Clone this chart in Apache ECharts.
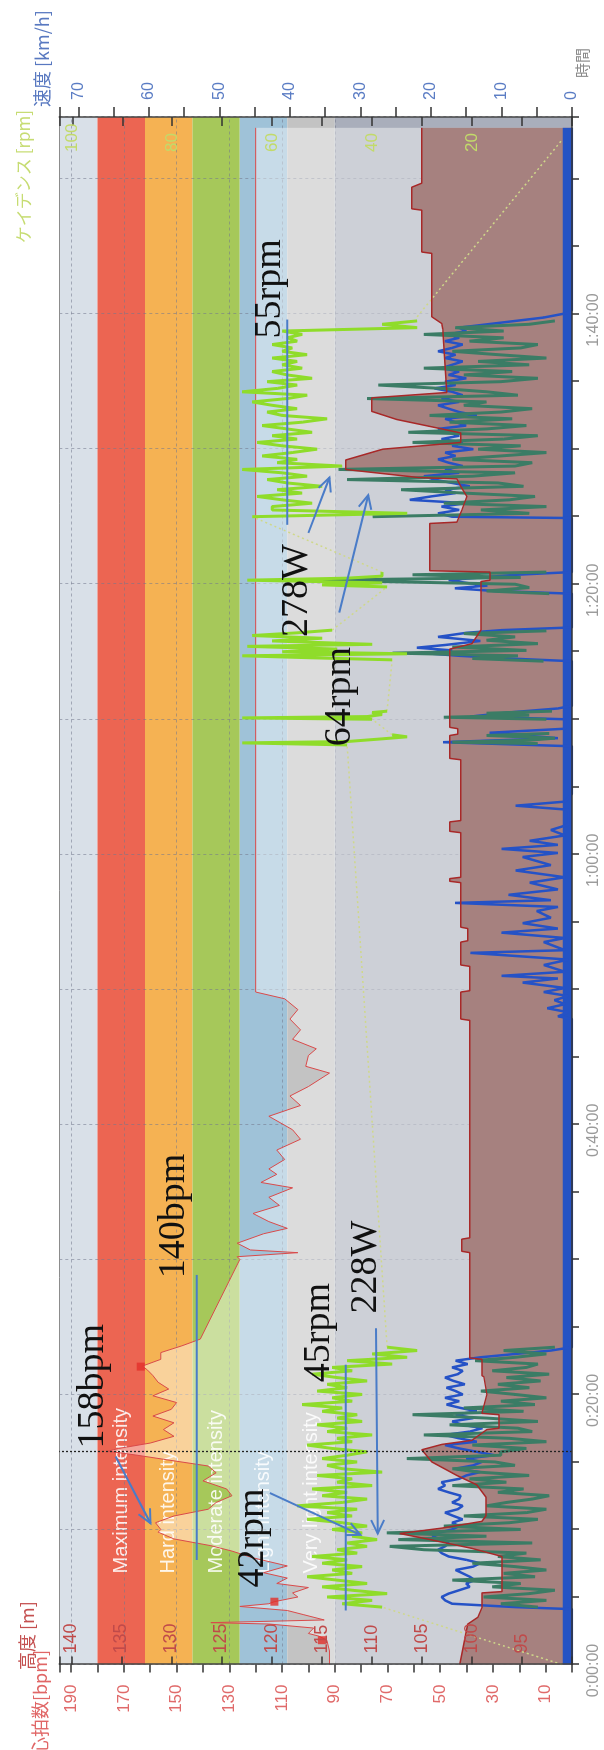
<!DOCTYPE html>
<html><head><meta charset="utf-8">
<script src="https://cdn.jsdelivr.net/npm/echarts@6/dist/echarts.min.js"></script>
<style>
html,body{margin:0;padding:0;background:#fff;width:604px;height:1750px;overflow:hidden;}
#chart{position:absolute;left:0;top:0;width:1750px;height:604px;transform-origin:0 0;transform:translate(0px,1750px) rotate(-90deg);}
</style></head><body><div id="chart"></div>
<script>
// ---------- data (time in minutes) ----------
const TIME_MAX = 114.6;
const zoneNames  = ['', 'Maximum intensity', 'Hard intensity', 'Moderate intensity', 'Light intensity', 'Very light intensity', ''];
const zoneFrom   = [180, 162, 144, 126, 108, 90, 0];
const zoneTo     = [194.5, 180, 162, 144, 126, 108, 90];
const zoneColors = ['#d9e0e8', '#ec6552', '#f5b253', '#a6c85a', '#9fc2d8', '#c3c3c3', '#a9aebb'];
const hrGridValues = [90, 110, 130, 150, 170, 190];

const heartRate = [[0,92],[1.0,92],[1.8,93],[2.1,96],[2.3,100],[2.7,98],[3.0,115],[3.1,137],[3.3,94],[3.7,102],[4.0,108],[4.3,126],[4.5,115],[4.65,113],[5.0,104],[5.3,106],[5.7,100],[6.0,112],[6.4,108],[6.8,117],[7.3,108],[7.9,121],[8.4,129],[8.8,137],[9.3,151],[9.8,157],[10.0,156],[10.5,158],[11.0,151],[11.5,138],[12.0,135],[12.5,129],[13.0,131],[13.6,140],[14.2,135],[14.7,138],[15.2,155],[15.5,165],[15.8,176],[16.0,172],[16.4,160],[16.9,151],[17.4,155],[17.9,151],[18.4,159],[18.9,152],[19.4,150],[19.9,159],[20.4,153],[20.9,157],[21.4,159],[21.8,161],[22.1,163],[22.6,156],[23.1,156],[23.6,148],[24.1,141],[30.0,126],[30.2,127],[30.5,104],[30.7,122],[31.2,127],[31.9,117],[32.3,108],[32.8,115],[33.4,121],[34.0,111],[34.6,115],[35.3,106],[35.7,118],[36.3,112],[36.7,115],[37.4,109],[38.1,112],[38.9,103],[39.6,106],[40.6,115],[41.4,103],[42.1,107],[42.8,100],[43.8,92],[44.3,101],[45.1,100],[45.6,97],[46.3,106],[47.0,103],[47.8,107],[48.5,104],[49.3,109],[49.8,120],[113.8,120]];

const altitude = [[0,101.2],[1.5,100.8],[3.0,100.4],[3.5,99.4],[4.2,99.0],[5.3,99.0],[5.4,97.0],[8.0,97.0],[8.6,100],[9.3,104.5],[9.7,107.2],[10.1,103],[10.6,99],[11.0,98.6],[12.4,98.6],[13.3,99.5],[14.0,101.5],[14.6,103],[15.0,104],[15.9,105],[16.3,103],[16.6,100],[17.4,98.5],[17.5,97.3],[18.5,97.3],[18.6,99],[20.0,98.5],[21.3,98.8],[21.4,99],[22.6,99],[22.7,100.2],[30.5,100.2],[30.6,101],[31.5,101],[31.6,100.2],[47.7,100.2],[47.8,101.1],[49.8,101.1],[49.9,100.2],[51.7,100.2],[51.8,101.1],[53.5,101.1],[53.6,100.4],[54.5,100.4],[54.6,101.1],[57.9,101.1],[58.0,102.2],[58.2,102.2],[58.3,101.1],[61.6,101.1],[61.7,102.2],[62.4,102.2],[62.5,101.1],[67.0,101.1],[67.1,102.2],[68.8,102.2],[68.9,101.4],[69.3,101.4],[69.4,102.2],[75.2,102.2],[75.6,100],[76.6,99.1],[80.2,99.1],[80.3,98.2],[80.9,98.2],[81.0,104.2],[84.5,104.2],[84.6,101.5],[85.5,101],[86.5,100.5],[87.1,101],[87.8,101.5],[87.9,105.3],[88.5,112.6],[89.2,112.6],[90.0,108.9],[90.5,101.1],[91.2,101.1],[91.5,103],[92.2,107.5],[92.8,110],[93.8,110],[94.2,102.5],[98.9,102.9],[99.3,103],[99.8,104.0],[104.5,104.0],[104.6,105.0],[107.7,105.0],[107.8,106.0],[109.4,106.0],[109.5,105.9],[109.7,105.0],[113.8,105.0]];

// ride segment A: 4.25 .. 23.5 min, segment C: 85.0 .. 99.5 min, one value every 0.25 min
const segAStart = 4.25, segCStart = 85.0, segStep = 0.25;
const cadenceA = [38,46,40,49,37,44,50,41,47,53, 44,48,42,50,45,52,43,47,41,45, 39,44,42,48,41,46,53,44,49,43, 55,46,41,50,45,52,40,47,44,51, 38,46,49,43,50,45,41,48,53,44, 47,40,49,45,51,42,47,43,50,46, 54,44,48,42,51,45,49,41,47,52, 44,48,36,45,33,40,31,37];
const powerA = [120,250,90,310,150,60,280,180,420,130, 240,90,200,350,110,260,160,520,640,140, 610,300,650,180,450,220,120,380,160,90, 300,230,140,80,260,170,420,230,360,150, 330,420,200,270,580,250,250,160,350,90, 220,520,140,190,430,120,300,560,170,380, 130,250,90,200,320,150,260,110,230,80, 280,160,120,340,200,90,240,60];
const speedA = [8,17,18,18.5,17.5,16,14.5,15,13.8,14.5, 15.5,16.5,14,13,15,17.5,18.5,19,18,17.5, 18.5,19.8,19,17,16,17,15.5,16.8,18,16.2, 15.5,17,16,15.8,17.5,19,18,18.5,16,15, 13,16.5,14,12.8,15,11,13.5,16,18,13.5, 16,18,14.5,12.7,15.5,17,14,16.5,13.5,15.8, 17.8,16,18,15.5,16.5,17.8,15.2,16.8,18,16.2, 15.5,17,14.8,16.5,13,8,3,0];
const cadenceC = [64,33,60,60,52,58,63,54,59,50, 57,61,53,58,66,46,59,55,62,56, 51,58,63,55,60,52,57,62,54,49, 58,61,55,60,64,57,53,66,59,55, 61,52,57,60,54,58,55,60,53,58, 56,60,55,57,54,58,31,38,31];
const powerC = [700,150,320,90,450,220,130,380,600,170, 260,790,350,200,820,200,140,420,250,90, 330,180,560,240,120,575,300,160,430,210, 500,250,140,380,300,720,190,300,460,680, 250,120,380,210,520,150,330,90,260,420, 180,120,360,240,520,240,410,150,60];
const speedC = [17,19,16,18.5,15,23,20,16.5,18,14.5, 17,19.5,21,16,18,15.5,17.5,19,16.5,18, 14,17,15.5,18.5,16,17.5,19,15,16.5,18, 13.5,16,17.5,19,16,18.5,15.5,17,19.5,16.5, 18,15,17.5,16,18.5,17,15.5,18,16.5,19, 17,15.5,18,16,17.5,15,16,12,8];

const speedStops = [[47.8,0],[48.0,2],[48.3,0.5],[48.6,3.5],[48.9,1],[49.2,2.5],[49.5,0.5],[49.8,4],[50.1,1],[50.5,7],[50.8,2],[51.0,10],[51.3,1],[51.8,4],[52.2,0.5],[52.7,14.4],[52.9,1],[53.5,4],[53.8,1],[54.2,10],[54.5,2],[54.9,7],[55.3,3],[55.8,5],[56.1,2],[56.4,16.6],[56.6,3],[57.0,9],[57.4,2],[57.9,6],[58.3,1],[58.8,8],[59.2,3],[59.8,7],[60.1,2],[60.4,10],[60.7,2],[61.0,6],[61.4,1],[61.8,3],[62.2,0.5],[63.3,0.5],[63.6,8],[63.9,1],[64.5,0],[68.0,0],[68.3,18.3],[68.6,2],[69.0,11.7],[69.3,1],[70.0,1],[70.2,14.4],[70.5,9],[70.8,2],[71.0,0]];
const speedBurst = [[74.3,0],[74.5,9],[74.7,16],[74.9,21],[75.1,17],[75.3,22],[75.5,18],[75.8,13],[76.1,19],[76.4,15],[76.6,10],[76.8,0],[79.3,0],[79.5,11],[79.7,16.6],[79.9,12],[80.1,15],[80.3,17.5],[80.5,13],[80.7,8],[80.9,0]];
const speedEnd = [[99.75,4],[100.1,0.5],[100.3,0],[113.8,0]];
const cadenceBursts = [[68.1,45],[68.25,66],[68.35,45],[68.55,38],[68.7,33],[68.85,36],[69.5,null],[70.0,40],[70.1,66],[70.2,41],[70.35,38],[70.5,40],[70.6,37],[72,null],[74.4,36],[74.55,52],[74.7,66],[74.85,33],[75.0,58],[75.2,47],[75.4,65],[75.55,40],[75.8,60],[76.0,50],[76.2,64],[76.4,55],[76.6,48],[78,null],[79.8,37],[79.95,50],[80.1,38],[80.3,65],[80.45,45],[80.6,38],[80.9,38],[82,null]];
const powerBursts = [[68.2,120],[68.3,420],[68.45,150],[68.6,60],[68.8,300],[68.95,80],[69.5,null],[70.0,90],[70.15,450],[70.3,150],[70.45,300],[70.6,70],[72,null],[74.3,100],[74.5,350],[74.7,190],[74.9,630],[75.1,160],[75.35,420],[75.6,120],[75.85,300],[76.1,200],[76.35,380],[76.55,90],[78,null],[79.3,80],[79.5,300],[79.75,150],[80.0,200],[80.3,900],[80.5,180],[80.7,560],[80.9,90],[82,null]];
const cadenceGaps = [[0,2],[4.25,38],[4.3,null],[23.5,37],[68.1,45],[68.2,null],[68.85,36],[70.0,40],[70.05,null],[70.6,37],[74.4,36],[74.5,null],[76.6,48],[79.8,37],[79.9,null],[80.9,38],[85.0,64],[85.1,null],[99.8,31],[112.9,2]];

const hrMarkers = [[1.8,94.9],[4.65,112.9],[22.06,163.6]];
const lapTimes = [4.6, 22.2, 57.9, 67.7, 73.0, 73.9, 84.3, 99.1, 110.5, 113.9];
const lapNames = ['3', '5', '10', '6', '8', '9', '11', '12', '13', '15'];
const cursorTime = 15.76;

const annoTexts = ['158bpm', '140bpm', '42rpm', '45rpm', '228W', '64rpm', '278W', '55rpm'];
const annoTime  = [16.0, 28.6, 5.7, 20.9, 26.0, 68.0, 76.1, 98.2];
const annoLevel = [181.6, 150.9, 121.2, 96.1, 78.1, 88.0, 104.4, 114.6];   // heart-rate axis units
const avgLineStart = [7.74, 4.0, 84.4];
const avgLineEnd   = [28.85, 22.2, 99.6];
const avgLineValue = [142.4, 45.3, 57];
const avgLineAxis  = [0, 3, 3];    // 0 = heart rate axis, 3 = cadence axis
const arrowFromTime  = [15.4, 12.7, 24.9, 83.8, 77.9];
const arrowFromLevel = [173.1, 114.6, 74.4, 100.0, 88.3];
const arrowToTime    = [10.46, 9.6, 9.7, 87.9, 86.6];
const arrowToLevel   = [159.9, 80.3, 73.7, 92.0, 77.3];

// ---------- build ----------
const seg = (start, arr) => arr.map((v, i) => [start + i * segStep, v]);
const speedData = [[0,0],[4.1,0]].concat(seg(segAStart, speedA), [[23.7,0]], speedStops, speedBurst, [[84.9,0]], seg(segCStart, speedC), speedEnd);
const powerData = seg(segAStart, powerA).concat([[23.6,null]], powerBursts, seg(segCStart, powerC));
const cadenceData = seg(segAStart, cadenceA).concat([[23.6,null]], cadenceBursts, seg(segCStart, cadenceC));

const pad2 = n => String(n).padStart(2, '0');
const isInt = v => Math.abs(v - Math.round(v)) < 1e-6;
const SANS = '"Liberation Sans", Arial, sans-serif';
const CJK = '"Noto Sans CJK JP", "Noto Sans", sans-serif';

const chart = echarts.init(document.getElementById('chart'), null, {renderer: 'canvas', devicePixelRatio: 1});

const gridLineStyle = {color: 'rgba(115,120,140,0.55)', type: [3, 3], width: 1};
const option = {
  animation: false,
  textStyle: {fontFamily: SANS},
  grid: {left: 85.5, right: 117, top: 59.3, bottom: 32, show: false},
  xAxis: [{
    type: 'value', min: 0, max: TIME_MAX, interval: 10, z: 20,
    axisLine: {lineStyle: {color: '#333', width: 1.5}},
    axisTick: {length: 7, lineStyle: {color: '#333', width: 1.5}},
    minorTick: {show: true, splitNumber: 2, length: 7, lineStyle: {color: '#333', width: 1.5}},
    axisLabel: {color: '#9a9a9a', fontSize: 16, margin: 14, showMaxLabel: false, padding: [0, 12, 0, 0],
      formatter: v => (isInt(v) && Math.round(v) % 20 === 0) ? (Math.floor(v / 60) + ':' + pad2(Math.round(v) % 60) + ':00') : ''},
    splitLine: {show: false}
  }, { // grid lines every 10 minutes, drawn between the zones and the altitude fill
    type: 'value', min: 0, max: TIME_MAX, interval: 10, z: 2, position: 'bottom',
    axisLine: {show: false}, axisTick: {show: false}, axisLabel: {show: false},
    splitLine: {show: true, lineStyle: gridLineStyle}
  }],
  yAxis: [
    { // 0 heart rate
      type: 'value', position: 'left', min: 0, max: 194.5, interval: 10, z: 20,
      axisLine: {show: true, lineStyle: {color: '#444', width: 1.5}},
      axisTick: {show: true, length: 8, lineStyle: {color: '#333', width: 1.5}},
      axisLabel: {color: '#e06a6a', fontSize: 17, margin: 20, formatter: v => (isInt(v) && Math.round(v) % 20 === 10) ? String(Math.round(v)) : ''},
      splitLine: {show: false}
    },
    { // 1 altitude
      type: 'value', position: 'left', min: 90, max: 141.2, interval: 5, z: 20,
      axisLine: {show: false},
      axisTick: {show: true, inside: true, length: 8, lineStyle: {color: '#333', width: 1.5}},
      axisLabel: {inside: true, color: '#c04a4a', fontSize: 18, margin: 11, formatter: v => (isInt(v) && v > 90 && v < 141) ? String(Math.round(v)) : ''},
      splitLine: {show: false}
    },
    { // 2 speed
      type: 'value', position: 'right', min: 0, max: 72.7, interval: 5, z: 20,
      axisLine: {show: true, lineStyle: {color: '#444', width: 1.5}},
      axisTick: {show: true, length: 10, lineStyle: {color: '#333', width: 1.5}},
      axisLabel: {color: '#5a7cc4', fontSize: 16, margin: 17, formatter: v => (isInt(v) && Math.round(v) % 10 === 0 && v <= 70) ? String(Math.round(v)) : ''},
      splitLine: {show: false}
    },
    { // 3 cadence
      type: 'value', position: 'right', min: 0, max: 102.6, interval: 10, z: 20,
      axisLine: {show: false},
      axisTick: {show: true, inside: true, length: 9, lineStyle: {color: '#333', width: 1.5}},
      axisLabel: {inside: true, align: 'left', color: '#c2da6a', fontSize: 17, margin: 35, formatter: v => (isInt(v) && Math.round(v) % 20 === 0 && v > 0 && v <= 100) ? String(Math.round(v)) : ''},
      splitLine: {show: false}
    },
    { // 4 power (hidden)
      type: 'value', show: false, min: 0, max: 1800
    }
  ],
  series: [
    { // zones
      name: 'zones', type: 'line', yAxisIndex: 0, z: 1, silent: true, symbol: 'none',
      data: [[0, 0], [TIME_MAX, 0]], lineStyle: {opacity: 0},
      markArea: {
        silent: true, z: 1,
        label: {show: true, position: 'insideLeft', distance: 91, color: 'rgba(255,255,255,0.88)', fontSize: 20, fontFamily: SANS},
        data: zoneFrom.map((f, i) => [{name: zoneNames[i], yAxis: f, itemStyle: {color: zoneColors[i]}}, {yAxis: zoneTo[i]}])
      }
    },
    { // heart-rate grid lines + top border
      name: 'grid', type: 'line', yAxisIndex: 0, z: 2, silent: true, symbol: 'none',
      data: [[0, 0], [TIME_MAX, 0]], lineStyle: {opacity: 0},
      markLine: {
        silent: true, z: 2, symbol: 'none', label: {show: false},
        lineStyle: gridLineStyle,
        data: hrGridValues.map(v => ({yAxis: v}))
          .concat([{yAxis: 194.5, lineStyle: {color: '#8c8c8c', type: 'solid', width: 1}}])
      }
    },
    { // heart rate with whitening below the curve
      name: '心拍数', type: 'line', yAxisIndex: 0, z: 3, symbol: 'none', data: heartRate,
      lineStyle: {color: '#d94a4a', width: 1},
      areaStyle: {color: 'rgba(255,255,255,0.42)', origin: 'start', opacity: 1}
    },
    { // altitude fill
      name: '高度', type: 'line', yAxisIndex: 1, z: 4, symbol: 'none', data: altitude,
      lineStyle: {width: 0}, areaStyle: {color: '#a6817f', origin: 'start', opacity: 1}
    },
    { // speed
      name: '速度', type: 'line', yAxisIndex: 2, z: 6, symbol: 'none', data: speedData,
      lineStyle: {color: '#2552c6', width: 2.5},
      markArea: {silent: true, z: 6, itemStyle: {color: '#2453c4'}, data: [[{xAxis: 0, yAxis: 0}, {xAxis: 113.8, yAxis: 1.3}]]}
    },
    { // power
      name: 'パワー', type: 'line', yAxisIndex: 4, z: 7, symbol: 'none', data: powerData,
      lineStyle: {color: '#3b7c65', width: 3}
    },
    { // cadence gaps (dotted)
      name: 'ケイデンス補間', type: 'line', yAxisIndex: 3, z: 8, symbol: 'none', data: cadenceGaps,
      lineStyle: {color: '#cfd88a', width: 1.5, type: [2, 3]}
    },
    { // cadence
      name: 'ケイデンス', type: 'line', yAxisIndex: 3, z: 8, symbol: 'none', data: cadenceData,
      lineStyle: {color: '#8fdc2a', width: 3}
    },
    { // altitude outline
      name: '高度線', type: 'line', yAxisIndex: 1, z: 9, symbol: 'none', data: altitude,
      lineStyle: {color: '#a82828', width: 1.5}
    },
    { // HR markers
      name: 'marks', type: 'scatter', yAxisIndex: 0, z: 9, symbol: 'rect', symbolSize: 8,
      itemStyle: {color: '#e3302a'}, data: hrMarkers
    },
    { // lap labels
      name: 'laps', type: 'scatter', yAxisIndex: 2, z: 9, symbolSize: 1, itemStyle: {opacity: 0},
      data: lapTimes.map((t, i) => [t, 6, lapNames[i]]),
      label: {show: true, position: 'inside', formatter: p => p.data[2], color: '#5a5a5a', fontSize: 13}
    },
    { // cursor
      name: 'cursor', type: 'line', yAxisIndex: 0, z: 10, silent: true, symbol: 'none',
      data: [[0, 0], [TIME_MAX, 0]], lineStyle: {opacity: 0},
      markLine: {silent: true, z: 10, symbol: 'none', label: {show: false},
        lineStyle: {color: '#222', type: [2, 2], width: 1.3}, data: [{xAxis: cursorTime}]}
    }
  ]
};
chart.setOption(option);

// ---------- annotations, positioned through the chart's own scales ----------
const toPx = (t, v, yi) => chart.convertToPixel({xAxisIndex: 0, yAxisIndex: yi}, [t, v]);
const blue = '#4a7cc8';
const graphics = [];
// axis titles
graphics.push({type: 'text', x: 100, y: 40, style: {text: '心拍数[bpm]', fill: '#e06666', fontSize: 18, fontFamily: CJK, align: 'right', verticalAlign: 'middle'}});
graphics.push({type: 'text', x: 80, y: 27, style: {text: '高度 [m]', fill: '#c45050', fontSize: 18, fontFamily: CJK, align: 'left', verticalAlign: 'middle'}});
graphics.push({type: 'text', x: 1640, y: 24, style: {text: 'ケイデンス [rpm]', fill: '#c6dc72', fontSize: 17, fontFamily: CJK, align: 'right', verticalAlign: 'middle'}});
graphics.push({type: 'text', x: 1643, y: 42, style: {text: '速度 [km/h]', fill: '#5878c0', fontSize: 18, fontFamily: CJK, align: 'left', verticalAlign: 'middle'}});
graphics.push({type: 'text', x: 1672, y: 582, style: {text: '時間', fill: '#8a8a8a', fontSize: 15, fontFamily: CJK, align: 'left', verticalAlign: 'middle'}});
// average lines
avgLineStart.forEach((t0, i) => {
  const a = toPx(t0, avgLineValue[i], avgLineAxis[i]);
  const b = toPx(avgLineEnd[i], avgLineValue[i], avgLineAxis[i]);
  graphics.push({type: 'line', z: 100, shape: {x1: a[0], y1: a[1], x2: b[0], y2: b[1]}, style: {stroke: blue, lineWidth: 2}});
});
// arrows
arrowFromTime.forEach((t0, i) => {
  const a = toPx(t0, arrowFromLevel[i], 0);
  const b = toPx(arrowToTime[i], arrowToLevel[i], 0);
  const ang = Math.atan2(b[1] - a[1], b[0] - a[0]);
  const L = 15, spread = 0.45;
  const p1 = [b[0] - L * Math.cos(ang - spread), b[1] - L * Math.sin(ang - spread)];
  const p2 = [b[0] - L * Math.cos(ang + spread), b[1] - L * Math.sin(ang + spread)];
  graphics.push({type: 'line', z: 100, shape: {x1: a[0], y1: a[1], x2: b[0], y2: b[1]}, style: {stroke: blue, lineWidth: 2}});
  graphics.push({type: 'polyline', z: 100, shape: {points: [p1, b, p2]}, style: {stroke: blue, lineWidth: 2, fill: null}});
});
// text annotations
annoTexts.forEach((txt, i) => {
  const p = toPx(annoTime[i], annoLevel[i], 0);
  graphics.push({type: 'text', z: 101, x: p[0], y: p[1], style: {text: txt, fill: '#111', fontSize: 38, fontFamily: '"Liberation Serif", "DejaVu Serif", serif', align: 'left', verticalAlign: 'middle'}});
});
chart.setOption({graphic: graphics});
</script></body></html>
